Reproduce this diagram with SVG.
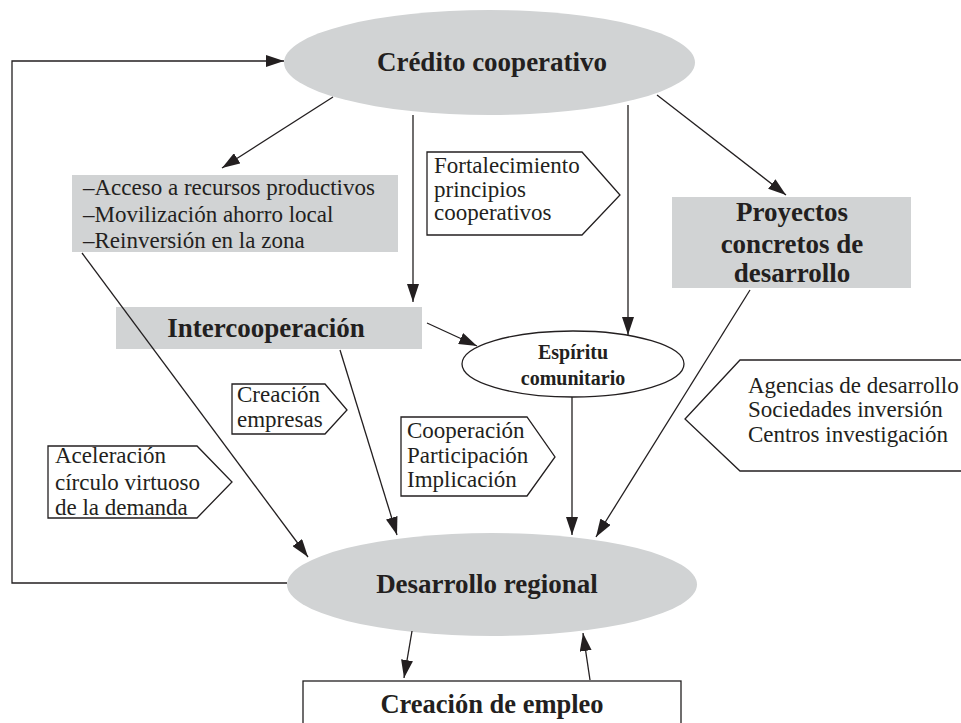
<svg xmlns="http://www.w3.org/2000/svg" width="961" height="723" viewBox="0 0 961 723">
<defs>
<marker id="ah" markerWidth="18" markerHeight="12" refX="18" refY="6" orient="auto" markerUnits="userSpaceOnUse"><path d="M0,0 L18,6 L0,12 z" fill="#231f20"/></marker>
<style>
.t{font-family:"Liberation Serif","Times New Roman",serif;fill:#231f20}
.b{font-weight:bold;font-size:27px}
.r{font-size:23px}
.g{fill:#d1d3d4;stroke:none}
.o{fill:#fff;stroke:#231f20;stroke-width:1.3}
.c line,.c path{stroke:#231f20;stroke-width:1.3;fill:none}
</style>
</defs>
<rect width="961" height="723" fill="#fff"/>
<g id="credito">
<ellipse class="g" cx="489.5" cy="62.5" rx="205.5" ry="52.5"/>
<text class="t b" x="492" y="71" text-anchor="middle">Crédito cooperativo</text>
</g>
<g id="recursos">
<rect class="g" x="72" y="175" width="326" height="77"/>
<text class="t r" x="83" y="195">–Acceso a recursos productivos</text>
<text class="t r" x="83" y="222">–Movilización ahorro local</text>
<text class="t r" x="83" y="248">–Reinversión en la zona</text>
</g>
<g id="fortalecimiento">
<path class="o" d="M427,152 H582 L620,195 L582,235 H427 Z"/>
<text class="t r" x="434" y="173">Fortalecimiento</text>
<text class="t r" x="434" y="197">principios</text>
<text class="t r" x="434" y="220">cooperativos</text>
</g>
<g id="proyectos">
<rect class="g" x="672" y="197" width="239" height="91"/>
<text class="t b" x="792" y="221" text-anchor="middle">Proyectos</text>
<text class="t b" x="792" y="253" text-anchor="middle">concretos de</text>
<text class="t b" x="792" y="282" text-anchor="middle">desarrollo</text>
</g>
<g id="intercooperacion">
<rect class="g" x="116" y="307" width="306" height="42"/>
<text class="t b" x="266" y="337" text-anchor="middle">Intercooperación</text>
</g>
<g id="espiritu">
<ellipse class="o" cx="573" cy="364" rx="111" ry="33"/>
<text class="t" x="573" y="359" text-anchor="middle" font-weight="bold" font-size="20">Espíritu</text>
<text class="t" x="573" y="385" text-anchor="middle" font-weight="bold" font-size="20">comunitario</text>
</g>
<g id="creacion-empresas">
<path class="o" d="M232,384 H325 L347,410 L325,434 H232 Z"/>
<text class="t r" x="237" y="402">Creación</text>
<text class="t r" x="237" y="427">empresas</text>
</g>
<g id="cooperacion">
<path class="o" d="M401,417 H527 L555,457 L527,496 H401 Z"/>
<text class="t r" x="407" y="438">Cooperación</text>
<text class="t r" x="407" y="463">Participación</text>
<text class="t r" x="407" y="487">Implicación</text>
</g>
<g id="aceleracion">
<path class="o" d="M48,446 H197 L232,482 L197,518 H48 Z"/>
<text class="t r" x="55" y="463">Aceleración</text>
<text class="t r" x="55" y="490">círculo virtuoso</text>
<text class="t r" x="55" y="515">de la demanda</text>
</g>
<g id="agencias">
<path class="o" d="M970,360 H740 L685,419 L740,471 H970"/>
<text class="t r" x="748" y="393">Agencias de desarrollo</text>
<text class="t r" x="748" y="417">Sociedades inversión</text>
<text class="t r" x="748" y="442">Centros investigación</text>
</g>
<g id="desarrollo">
<ellipse class="g" cx="492" cy="584.5" rx="205" ry="51.5"/>
<text class="t b" x="487" y="593" text-anchor="middle">Desarrollo regional</text>
</g>
<g id="empleo">
<rect class="o" x="303" y="681" width="378" height="60"/>
<text class="t" x="492" y="713" text-anchor="middle" font-weight="bold" font-size="26.5">Creación de empleo</text>
</g>
<g class="c" id="connectors">
<path d="M287,583 H12 V61 H284" marker-end="url(#ah)"/>
<line x1="333" y1="97" x2="222" y2="168" marker-end="url(#ah)"/>
<line x1="413" y1="115" x2="413" y2="302" marker-end="url(#ah)"/>
<line x1="628" y1="105" x2="628" y2="335" marker-end="url(#ah)"/>
<line x1="657" y1="95" x2="786" y2="195" marker-end="url(#ah)"/>
<line x1="427" y1="323" x2="477" y2="346" marker-end="url(#ah)"/>
<line x1="82" y1="253" x2="308" y2="557" marker-end="url(#ah)"/>
<line x1="340" y1="350" x2="397" y2="535" marker-end="url(#ah)"/>
<line x1="572" y1="397" x2="572" y2="535" marker-end="url(#ah)"/>
<line x1="750" y1="290" x2="596" y2="537" marker-end="url(#ah)"/>
<line x1="412" y1="631" x2="404" y2="678" marker-end="url(#ah)"/>
<line x1="590" y1="680" x2="583" y2="633" marker-end="url(#ah)"/>
</g>
</svg>
